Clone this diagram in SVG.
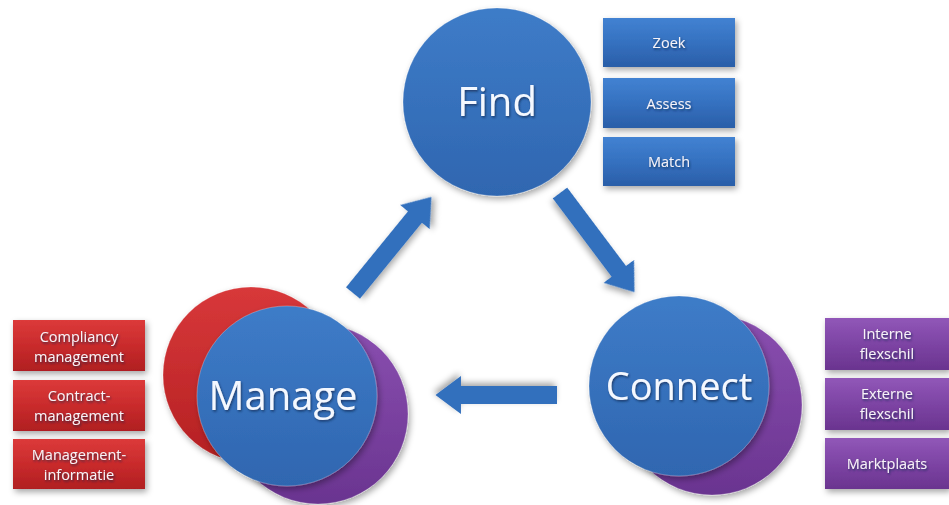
<svg xmlns="http://www.w3.org/2000/svg" width="949" height="505" viewBox="0 0 949 505">
<defs>
<linearGradient id="gCircle" x1="0" y1="0" x2="0" y2="1">
<stop offset="0" stop-color="#3e7cc8"/><stop offset="1" stop-color="#2f66b0"/>
</linearGradient>
<linearGradient id="gRed" x1="0" y1="0" x2="0" y2="1">
<stop offset="0" stop-color="#d8383a"/><stop offset="1" stop-color="#b42022"/>
</linearGradient>
<linearGradient id="gPurple" x1="0" y1="0" x2="0" y2="1">
<stop offset="0" stop-color="#8a4fb0"/><stop offset="1" stop-color="#6a3490"/>
</linearGradient>
<linearGradient id="gBoxBlue" x1="0" y1="0" x2="0" y2="1">
<stop offset="0" stop-color="#4282d2"/><stop offset="0.5" stop-color="#3571c0"/><stop offset="1" stop-color="#2a5ea8"/>
</linearGradient>
<linearGradient id="gBoxRed" x1="0" y1="0" x2="0" y2="1">
<stop offset="0" stop-color="#dc3a3a"/><stop offset="0.5" stop-color="#c92b2c"/><stop offset="1" stop-color="#b01f21"/>
</linearGradient>
<linearGradient id="gBoxPurple" x1="0" y1="0" x2="0" y2="1">
<stop offset="0" stop-color="#9157b8"/><stop offset="0.5" stop-color="#7d44a4"/><stop offset="1" stop-color="#6a348f"/>
</linearGradient>
<filter id="sh" x="-20%" y="-20%" width="140%" height="140%">
<feDropShadow dx="2" dy="3" stdDeviation="3" flood-color="#000" flood-opacity="0.35"/>
</filter>
<filter id="tsh" x="-10%" y="-20%" width="120%" height="140%">
<feDropShadow dx="1" dy="1.5" stdDeviation="1" flood-color="#0a2244" flood-opacity="0.7"/>
</filter>
<path id="arr" d="M0,-9 L98,-9 L98,-19 L124,0 L98,19 L98,9 L0,9 Z"/>
</defs>
<style>
.big{font-family:"Open Sans","Liberation Sans",sans-serif;fill:#f4f8ff;text-anchor:middle;filter:url(#tsh)}
.lbl{font-family:"Open Sans","Liberation Sans",sans-serif;font-size:14.5px;fill:#f6f3f8;text-anchor:middle;filter:url(#tsh)}
.circ{stroke:#ffffff;stroke-opacity:0.25;stroke-width:1;filter:url(#sh)}
.arrow{fill:#3270bd;filter:url(#sh)}
</style>
<rect width="949" height="505" fill="#ffffff"/>

<g id="connectors">
<use href="#arr" class="arrow" transform="translate(353,293) rotate(-50.8)"/>
<use href="#arr" class="arrow" transform="translate(560,193) rotate(53.1)"/>
<use href="#arr" class="arrow" transform="translate(557,395) rotate(180) scale(0.98,1)"/>
</g>

<g id="find">
<circle cx="497" cy="102" r="94" fill="url(#gCircle)" class="circ"/>
<text x="497" y="116" class="big" font-size="40">Find</text>
</g>
<g id="find-items">
<g id="zoek"><rect x="603" y="18" width="132" height="49" fill="url(#gBoxBlue)" filter="url(#sh)"/><text x="669" y="48" class="lbl">Zoek</text></g>
<g id="assess"><rect x="603" y="78" width="132" height="50" fill="url(#gBoxBlue)" filter="url(#sh)"/><text x="669" y="109" class="lbl">Assess</text></g>
<g id="match"><rect x="603" y="137" width="132" height="49" fill="url(#gBoxBlue)" filter="url(#sh)"/><text x="669" y="167" class="lbl">Match</text></g>
</g>

<g id="manage">
<circle cx="251" cy="375" r="88" fill="url(#gRed)" class="circ"/>
<circle cx="318" cy="414" r="90" fill="url(#gPurple)" class="circ"/>
<circle cx="287" cy="396" r="90" fill="url(#gCircle)" class="circ"/>
<text x="283" y="410" class="big" font-size="40">Manage</text>
</g>
<g id="manage-items">
<g id="compliancy"><rect x="13" y="320" width="132" height="51" fill="url(#gBoxRed)" filter="url(#sh)"/><text x="79" y="342" class="lbl">Compliancy</text><text x="79" y="362" class="lbl">management</text></g>
<g id="contract"><rect x="13" y="380" width="132" height="51" fill="url(#gBoxRed)" filter="url(#sh)"/><text x="79" y="401" class="lbl">Contract-</text><text x="79" y="421" class="lbl">management</text></g>
<g id="mgmtinfo"><rect x="13" y="439" width="132" height="50" fill="url(#gBoxRed)" filter="url(#sh)"/><text x="79" y="460" class="lbl">Management-</text><text x="79" y="480" class="lbl">informatie</text></g>
</g>

<g id="connect">
<circle cx="712" cy="405" r="90" fill="url(#gPurple)" class="circ"/>
<circle cx="679" cy="386" r="90" fill="url(#gCircle)" class="circ"/>
<text x="679" y="400" class="big" font-size="38">Connect</text>
</g>
<g id="connect-items">
<g id="interne"><rect x="825" y="318" width="124" height="52" fill="url(#gBoxPurple)" filter="url(#sh)"/><text x="887" y="339" class="lbl">Interne</text><text x="887" y="359" class="lbl">flexschil</text></g>
<g id="externe"><rect x="825" y="378" width="124" height="52" fill="url(#gBoxPurple)" filter="url(#sh)"/><text x="887" y="399" class="lbl">Externe</text><text x="887" y="419" class="lbl">flexschil</text></g>
<g id="marktplaats"><rect x="825" y="438" width="124" height="51" fill="url(#gBoxPurple)" filter="url(#sh)"/><text x="887" y="469" class="lbl">Marktplaats</text></g>
</g>
</svg>
